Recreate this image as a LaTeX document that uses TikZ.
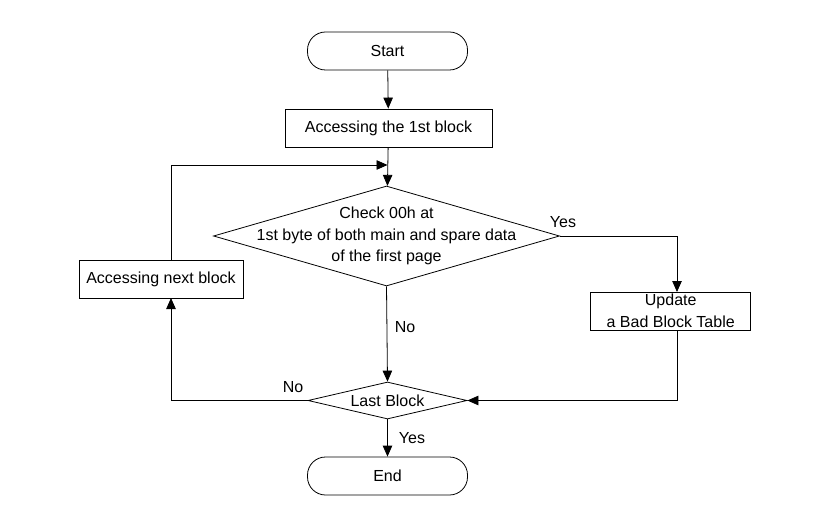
\documentclass[tikz,border=0pt]{standalone}
\usepackage{fontspec}
\setmainfont{Liberation Sans}
\usetikzlibrary{arrows.meta,shapes.geometric,calc}
\begin{document}
\begin{tikzpicture}[x=1pt,y=-1pt,
  every node/.style={font=\fontsize{16}{21.5}\selectfont, text=black},
  term/.style={draw, line width=0.8pt, rectangle, rounded corners=18pt, minimum width=160pt, minimum height=38pt, inner sep=0pt},
  proc/.style={draw, line width=0.8pt, rectangle, minimum height=38pt, inner sep=0pt, align=center},
  dec/.style={draw, line width=0.8pt, diamond, inner sep=0pt},
  conn/.style={line width=0.8pt, -{Triangle[length=11pt,width=9.5pt]}},
  lbl/.style={inner sep=0pt}
]
\useasboundingbox (0,0) rectangle (832,521);
\node[term] (start) at (387.5,51) {Start};
\node[proc, minimum width=207pt] (b1) at (388.5,128) {Accessing the 1st block};
\node[dec, minimum width=346pt, minimum height=100pt] (d1) at (386.5,236) {};
\node[align=center, inner sep=0pt] (d1t) at (386.5,236) {Check 00h at\\1st byte of both main and spare data\\of the first page};
\node[proc, minimum width=164pt] (nb) at (161,279) {Accessing next block};
\node[proc, minimum width=160pt] (upd) at (670.7,311) {Update\\a Bad Block Table};
\node[dec, minimum width=159pt, minimum height=37pt] (last) at (387.5,400.5) {};
\node[inner sep=0pt] (lastt) at (387.5,400.5) {Last Block};
\node[term] (end) at (387.5,476) {End};

\coordinate (j1) at (387.5,165);
\coordinate (nbtop) at (171,298);
\coordinate (nbup) at (171,260);
\coordinate (lc) at (171,165);
\coordinate (yc) at (677,236);
\coordinate (ut) at (677,292);
\coordinate (ub) at (677,330);
\coordinate (uc) at (677,400.5);
\coordinate (nc) at (171,400.5);

\draw[conn] (start) -- (b1);
\draw[conn] (b1) -- (d1);
\draw[conn] (nbup) -- (lc) -- (j1);
\draw[conn] (d1.east) -- (yc) -- (ut);
\draw[conn] (ub) -- (uc) -- (last.east);
\draw[conn] (d1.south) -- (last.north);
\draw[conn] (last.west) -- (nc) -- (nbtop);
\draw[conn] (last.south) -- (end.north);

\node[lbl] (yes1) at (563,222) {Yes};
\node[lbl] (no1) at (405,327) {No};
\node[lbl] (no2) at (293,387) {No};
\node[lbl] (yes2) at (412,438) {Yes};
\end{tikzpicture}
\end{document}
